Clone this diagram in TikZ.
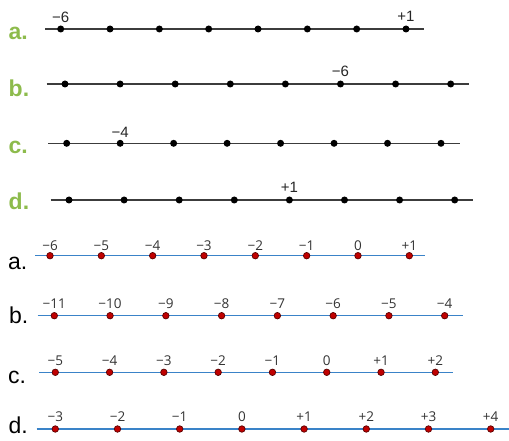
\documentclass[tikz,border=0pt]{standalone}
\usepackage{fontspec}
\setmainfont{Liberation Sans}
\newfontfamily\numfont{Open Sans}
\definecolor{lblgreen}{HTML}{8DBB4C}
\definecolor{axisblue}{HTML}{3A83C8}
\definecolor{dotred}{HTML}{C00000}
\definecolor{dotrim}{HTML}{5A0000}
\definecolor{axisgray}{HTML}{3C3C3C}
\tikzset{
 topdot/.style={circle,fill=black,inner sep=0pt,minimum size=7pt},
 botdot/.style={circle,fill=dotred,draw=dotrim,line width=0.7pt,inner sep=0pt,minimum size=6.5pt},
 topaxis/.style={draw=axisgray,line width=1.5pt},
 botaxis/.style={draw=axisblue,line width=1.5pt},
 toplbl/.style={anchor=base west,inner sep=0pt,text=lblgreen,font=\fontsize{23}{26}\selectfont\bfseries},
 botlbl/.style={anchor=base west,inner sep=0pt,text=black,font=\fontsize{23}{26}\selectfont},
 topnum/.style={inner sep=0pt,text=black!85,font=\fontsize{15}{17}\selectfont},
 botnum/.style={inner sep=0pt,text=black!80,font=\numfont\fontsize{13.5}{15}\selectfont},
}
% name, y, xstart, xend, x0, dx
\newcommand{\TopRow}[6]{%
 \coordinate (#1s) at (#3,#2); \coordinate (#1e) at (#4,#2);
 \draw[topaxis] (#1s) -- (#1e);
 \foreach \i in {1,...,8} { \node[topdot] (#1\i) at ({#5+(\i-1)*#6},#2) {}; }
}
% name, y, xstart, xend, x0, dx, labels, label shift
\newcommand{\BotRow}[8]{%
 \coordinate (#1s) at (#3,#2); \coordinate (#1e) at (#4,#2);
 \draw[botaxis] (#1s) -- (#1e);
 \foreach \t [count=\i] in {#7} {
   \node[botdot] (#1\i) at ({#5+(\i-1)*#6},#2) {};
   \node[botnum] (#1n\i) at ([yshift=#8]#1\i.center) {\t};
 }
}
\begin{document}
\begin{tikzpicture}[x=1pt,y=-1pt]
\useasboundingbox (0,0) rectangle (509,441);
% top half
\TopRow{ta}{29}{45}{424}{60.7}{49.33}
\TopRow{tb}{84}{46.7}{469}{65}{55.1}
\TopRow{tc}{143.3}{48.3}{460}{66.7}{53.47}
\TopRow{td}{200}{50.7}{473.3}{69}{55.1}
\node[toplbl] (la) at (8.5,39.3) {a.};
\node[toplbl] (lb) at (8.5,96.7) {b.};
\node[toplbl] (lc) at (8.5,153.3) {c.};
\node[toplbl] (ld) at (8.5,210) {d.};
\node[topnum] (nta1) at ([yshift=12pt]ta1.center) {−6};
\node[topnum] (nta8) at ([yshift=13pt]ta8.center) {+1};
\node[topnum] (ntb6) at ([yshift=12.3pt]tb6.center) {−6};
\node[topnum] (ntc2) at ([yshift=11pt]tc2.center) {−4};
\node[topnum] (ntd5) at ([yshift=12.5pt]td5.center) {+1};
% bottom half
\BotRow{ba}{255.7}{35}{425}{50}{51.33}{−6,−5,−4,−3,−2,−1,0,+1}{10pt}
\BotRow{bb}{315.7}{37.7}{463.3}{54.3}{55.77}{−11,−10,−9,−8,−7,−6,−5,−4}{12pt}
\BotRow{bc}{372.3}{39.3}{453.3}{55.3}{54.29}{−5,−4,−3,−2,−1,0,+1,+2}{11.8pt}
\BotRow{bd}{429}{36.7}{509}{55.3}{62.2}{−3,−2,−1,0,+1,+2,+3,+4}{12.2pt}
\node[botlbl] (La) at (8,269) {a.};
\node[botlbl] (Lb) at (9,323) {b.};
\node[botlbl] (Lc) at (8,383) {c.};
\node[botlbl] (Ld) at (8.5,433.3) {d.};
\end{tikzpicture}
\end{document}
